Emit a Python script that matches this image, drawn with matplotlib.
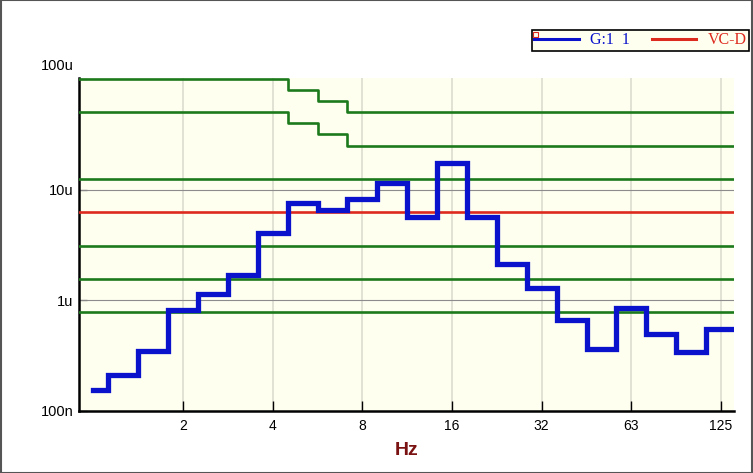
import matplotlib
matplotlib.use("Agg")
import matplotlib.pyplot as plt
from matplotlib.lines import Line2D
from matplotlib.patches import Rectangle
import numpy as np

plt.rcParams['font.family'] = ['Liberation Sans', 'DejaVu Sans']

# 1/3 octave band centres (Hz) and measured velocity (um/s)
bands = [1, 1.25, 1.6, 2, 2.5, 3.15, 4, 5, 6.3, 8, 10, 12.5, 16, 20,
         25, 31.5, 40, 50, 63, 80, 100, 125]
g11 = [0.155, 0.21, 0.35, 0.82, 1.15, 1.68, 4.07, 7.5, 6.6, 8.2, 11.5,
       5.7, 17.4, 5.7, 2.14, 1.28, 0.67, 0.365, 0.86, 0.494, 0.34, 0.55]

# VC criteria (um/s); VC-A / VC-B step down between 4 and 8 Hz
vc_step_bands = [4, 5, 6.3, 8]
vc_a = [100, 80, 63, 50]
vc_b = [50, 40, 31.5, 25]
vc_flat = {'VC-C': 12.5, 'VC-D': 6.25, 'VC-E': 3.12, 'VC-F': 1.56, 'VC-G': 0.78}

tick_labels = ['2', '4', '8', '16', '32', '63', '125']

green = '#1c7a1c'
red = '#dd2a1e'
blue = '#0a12cc'

fig = plt.figure(figsize=(7.53, 4.73), dpi=100)
ax = fig.add_axes([79 / 753, 62 / 473, 655 / 753, 333 / 473])
ax.set_facecolor('#fffff0')

# band index -> position on a log2 axis (1 Hz band at 2**0)
idx = np.arange(len(bands))
pos = 2.0 ** (idx / 3)
xmin, xmax = 2 ** -0.16, 2 ** 7.145

# measured spectrum, drawn as band steps from the first band centre
edges = np.concatenate([[pos[0]], 2.0 ** ((idx[:-1] + 0.5) / 3), [2 ** ((idx[-1] + 1) / 3)]])
yv = np.array(g11 + [g11[-1]]) * 1e-6
ax.step(edges, yv, where='post', color=blue, lw=3.8, solid_joinstyle='miter', zorder=5)

# stepped criteria
si = [bands.index(b) for b in vc_step_bands]
sx = [xmin] + [2 ** ((i + 0.5) / 3) for i in si[:-1]] + [xmax]
for vals in (vc_a, vc_b):
    sy = np.array(vals + [vals[-1]]) * 1e-6
    ax.step(sx, sy, where='post', color=green, lw=1.9, zorder=3)

for name, v in vc_flat.items():
    ax.axhline(v * 1e-6, color=red if name == 'VC-D' else green, lw=1.9, zorder=3)

ax.set_xscale('log', base=2)
ax.set_yscale('log')
ax.set_xlim(xmin, xmax)
ax.set_ylim(1e-7, 1.02e-4)

ax.set_xticks(2.0 ** np.arange(1, 8))
ax.set_xticklabels(tick_labels, fontsize=10)
ax.xaxis.set_minor_locator(matplotlib.ticker.NullLocator())
ax.tick_params(axis='x', direction='in', length=7, width=1, color='black', pad=6)

ax.set_yticks([1e-7, 1e-6, 1e-5, 1e-4])
ylabs = ax.set_yticklabels(['100n', '1u', '10u', ''], fontsize=10.5)
ax.yaxis.set_minor_locator(matplotlib.ticker.NullLocator())
ax.tick_params(axis='y', direction='in', length=6, width=1, color='#888888', pad=4)
ylabs[0].set_va('center_baseline')
ax.annotate('100u', xy=(0, 1e-4), xycoords=('axes fraction', 'data'),
            xytext=(-3.5, 4.5), textcoords='offset points',
            ha='right', va='bottom', fontsize=10.5)

for x in 2.0 ** np.arange(1, 8):
    ax.axvline(x, color='#d8d8cc', lw=1.1, zorder=1)
for y in (1e-6, 1e-5):
    ax.axhline(y, color='#8c8c8c', lw=0.8, zorder=1)

for s in ('top', 'right'):
    ax.spines[s].set_visible(False)
ax.spines['left'].set_linewidth(1.8)
ax.spines['bottom'].set_linewidth(1.8)

ax.set_xlabel('Hz', fontsize=14, fontweight='bold', color='#7a1212', labelpad=6)

handles = [Line2D([], [], color=blue, lw=2.2), Line2D([], [], color=red, lw=2.2)]
leg = fig.legend(handles, ['G:1  1', 'VC-D'], loc='upper left', ncol=2, mode='expand',
                 bbox_to_anchor=(532 / 753, 1 - 48 / 473, 217 / 753, 18 / 473),
                 borderaxespad=0, frameon=True, fancybox=False, edgecolor='black',
                 facecolor='#fffff0', framealpha=1, handlelength=2.8,
                 handletextpad=0.7, columnspacing=1.0, borderpad=0.15,
                 prop={'family': 'Liberation Serif', 'size': 11.5},
                 labelcolor='linecolor')
leg.get_frame().set_linewidth(1.2)

fig.patches.append(Rectangle((533 / 753, 1 - 37 / 473), 5 / 753, 5 / 473, fill=False,
                             edgecolor=red, lw=0.8, transform=fig.transFigure, zorder=10))
fig.patches.append(Rectangle((0.001, 0.001), 0.998, 0.998, fill=False,
                             edgecolor='#555555', lw=1.5, transform=fig.transFigure))

fig.savefig('out.png', dpi=100)
